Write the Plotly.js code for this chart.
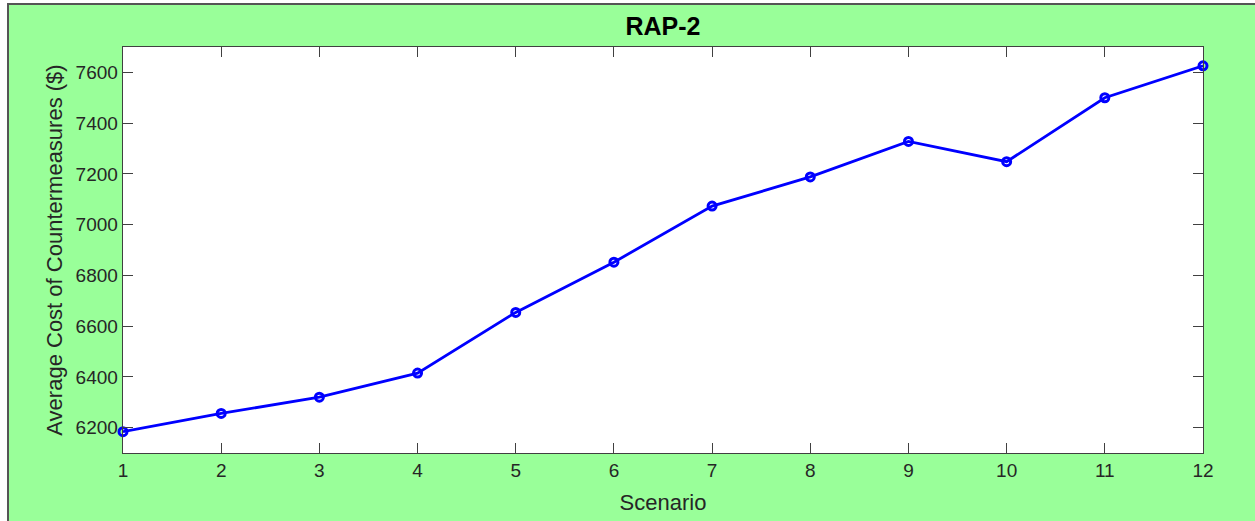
<!DOCTYPE html>
<html>
<head>
<meta charset="utf-8">
<script src="https://cdn.plot.ly/plotly-3.0.1.min.js"></script>
<style>
  html, body { margin: 0; padding: 0; background: #ffffff; width: 1255px; height: 521px; overflow: hidden; }
  #chart { position: absolute; left: 7px; top: 3px; width: 1248px; height: 518px;
           border-top: 2px solid #555555; border-left: 2px solid #555555; box-sizing: border-box; }
</style>
</head>
<body>
<div id="chart"></div>
<script>
const scenarios = [1, 2, 3, 4, 5, 6, 7, 8, 9, 10, 11, 12];
const avgCost = [6184, 6256, 6320, 6415, 6654, 6852, 7073, 7188, 7328, 7248, 7500, 7626];
const chartTitle = 'RAP-2';
const xLabel = 'Scenario';
const yLabel = 'Average Cost of Countermeasures ($)';

const textColor = '#262626';
const axisColor = '#404040';

const trace = {
  x: scenarios,
  y: avgCost,
  type: 'scatter',
  mode: 'lines+markers',
  line: { color: '#0000ff', width: 2.8 },
  marker: { symbol: 'circle-open', size: 8, color: '#0000ff', line: { color: '#0000ff', width: 3 } },
  cliponaxis: false,
  hoverinfo: 'skip'
};

const layout = {
  width: 1246,
  height: 516,
  paper_bgcolor: '#99ff99',
  plot_bgcolor: '#ffffff',
  margin: { l: 114, r: 52, t: 42, b: 68 },
  showlegend: false,
  font: { family: '"Liberation Sans", Arial, sans-serif', color: textColor, size: 19 },
  title: {
    text: '<b>' + chartTitle + '</b>',
    font: { size: 25, color: '#000000', family: '"Liberation Sans", Arial, sans-serif' },
    x: 0.5, xref: 'paper', xanchor: 'center',
    y: 1, yref: 'paper', yanchor: 'bottom', pad: { b: 12 }
  },
  xaxis: {
    range: [1, 12],
    tickmode: 'linear', tick0: 1, dtick: 1,
    ticks: 'inside', ticklen: 10, tickwidth: 1, tickcolor: axisColor,
    showline: true, linecolor: axisColor, linewidth: 1.3, mirror: 'ticks',
    showgrid: false, zeroline: false,
    tickfont: { size: 19, color: textColor },
    title: { text: xLabel, font: { size: 22, color: textColor }, standoff: 14 }
  },
  yaxis: {
    range: [6100, 7700],
    tickmode: 'linear', tick0: 6200, dtick: 200,
    ticks: 'inside', ticklen: 10, tickwidth: 1, tickcolor: axisColor,
    showline: true, linecolor: axisColor, linewidth: 1.3, mirror: 'ticks',
    showgrid: false, zeroline: false,
    tickfont: { size: 19, color: textColor },
    title: { text: yLabel, font: { size: 22, color: textColor }, standoff: 7 }
  }
};

Plotly.newPlot('chart', [trace], layout, { staticPlot: true, displayModeBar: false });
</script>
</body>
</html>
